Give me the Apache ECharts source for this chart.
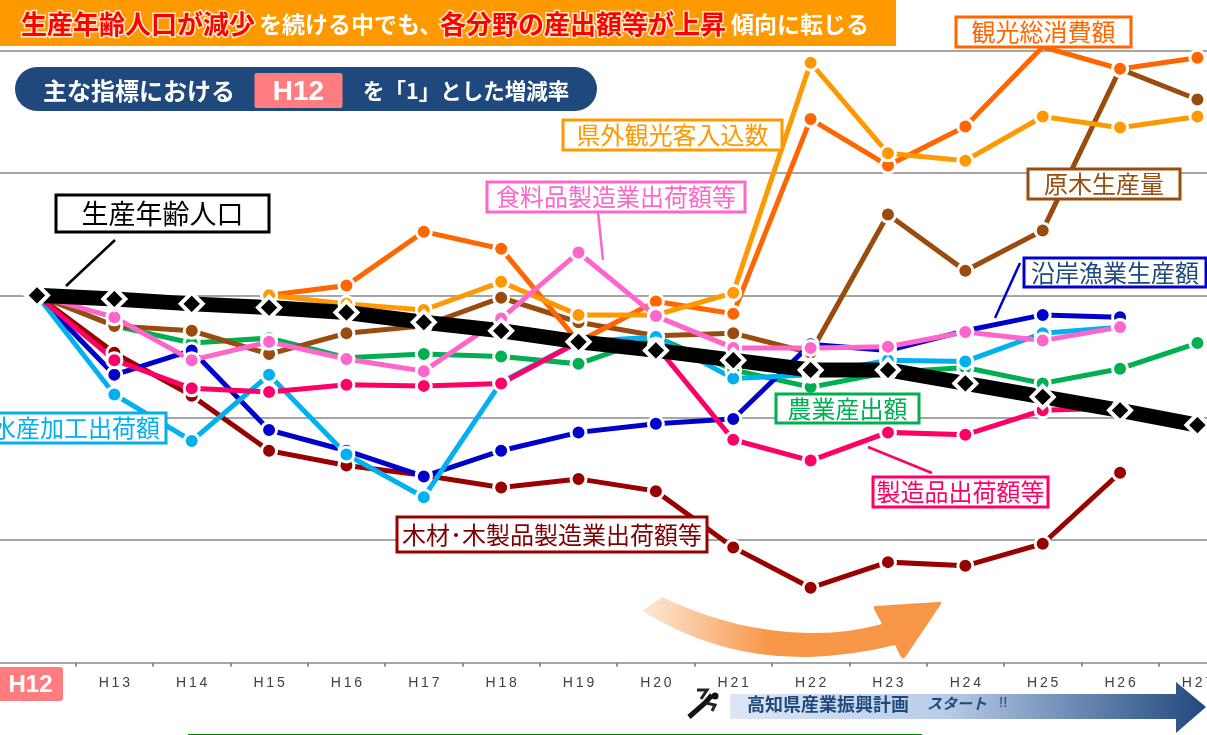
<!DOCTYPE html>
<html lang="ja">
<head>
<meta charset="utf-8">
<title>主な指標における増減率</title>
<style>html,body{margin:0;padding:0;background:#fff}#c{width:1207px;height:735px}</style>
<script src="https://cdn.jsdelivr.net/npm/echarts@6/dist/echarts.min.js"></script>
</head>
<body>
<div id="c"></div>
<script>
const categories = ['H12','H13','H14','H15','H16','H17','H18','H19','H20','H21','H22','H23','H24','H25','H26','H27'];
const population   = [1,.997,.993,.990,.986,.978,.971,.962,.955,.947,.939,.939,.928,.917,.906,.894];
const tourismSpend = [null,null,null,1,1.008,1.052,1.038,.962,.995,.985,1.144,1.106,1.138,1.203,1.185,1.194];
const visitors     = [null,null,null,1,.993,.988,1.011,.984,.984,1.002,1.190,1.116,1.110,1.146,1.137,1.146];
const timber       = [1,.975,.971,.952,.969,.975,.998,.978,.967,.969,.953,1.066,1.020,1.053,1.185,1.160];
const agriculture  = [1,.975,.961,.965,.949,.952,.950,.944,.966,.939,.925,.937,.941,.928,.940,.961];
const fishery      = [1,.935,.955,.890,.873,.852,.873,.888,.895,.899,.960,.955,.971,.984,.982,null];
const seafood      = [1,.919,.881,.935,.870,.835,.929,.962,.966,.932,.935,.947,.946,.969,.974,null];
const manufacture  = [1,.947,.924,.921,.927,.926,.928,.962,.959,.882,.865,.888,.886,.906,.908,null];
const woodProducts = [1,.953,.918,.873,.861,.853,.843,.850,.840,.794,.761,.782,.779,.797,.855,null];
const foodProducts = [1,.982,.947,.962,.948,.938,.981,1.035,.983,.957,.957,.958,.970,.963,.974,null];

const colors = {
  spend:'#FF6600', visitors:'#FF9900', timber:'#994C0D', agri:'#00B050', fish:'#0000CC',
  seafood:'#00B0F0', manu:'#FF0066', wood:'#990000', food:'#FF66CC', navy:'#1F497D', pink:'#FF7C80'
};
const jp = '"Noto Sans CJK JP","Noto Sans",sans-serif';

echarts.graphic.registerShape('curvedArrow', echarts.graphic.extendPath(
  'M642,611 Q720,659 809,657 Q855,655 895,645 L901,657 Q904,660 906,656 L941,604 Q942,601 938,602 L875,606 Q873,607 874,609 L882,624 Q845,634 809,633 Q735,632 662,597 Z', {}));

function lineSeries(name, data, color){
  return {
    name, type:'line', data, connectNulls:false, smooth:false,
    symbol:'circle', symbolSize:15, showSymbol:true, showAllSymbols:true,
    lineStyle:{color, width:5, cap:'butt', join:'miter'},
    itemStyle:{color, borderColor:'#fff', borderWidth:3, opacity:1},
    animation:false, silent:true
  };
}

const series = [
  lineSeries('木材・木製品製造業出荷額等', woodProducts, colors.wood),
  lineSeries('農業産出額', agriculture, colors.agri),
  lineSeries('原木生産量', timber, colors.timber),
  lineSeries('沿岸漁業生産額', fishery, colors.fish),
  lineSeries('水産加工出荷額', seafood, colors.seafood),
  lineSeries('観光総消費額', tourismSpend, colors.spend),
  lineSeries('県外観光客入込数', visitors, colors.visitors),
  lineSeries('製造品出荷額等', manufacture, colors.manu),
  lineSeries('食料品製造業出荷額等', foodProducts, colors.food),
  {
    name:'生産年齢人口', type:'line', data:population, symbol:'diamond', symbolSize:22,
    lineStyle:{color:'#000', width:15, cap:'butt'},
    itemStyle:{color:'#000', borderColor:'#fff', borderWidth:4, opacity:1},
    animation:false, silent:true
  }
];

function box(text,x1,y1,x2,y2,color,textColor,size){
  return [
    {type:'rect',z:50,shape:{x:x1,y:y1,width:x2-x1,height:y2-y1},
      style:{fill:'#fff',stroke:color,lineWidth:3}},
    {type:'text',z:51,style:{text,x:(x1+x2)/2,y:(y1+y2)/2,align:'center',verticalAlign:'middle',
      fill:textColor||color,font:`${size||24}px ${jp}`}}
  ];
}
function leader(x1,y1,x2,y2,color){
  return {type:'line',z:49,shape:{x1,y1,x2,y2},style:{stroke:color,lineWidth:2.5}};
}
function label(text,x,y,fill,font,extra){
  return {type:'text',z:60,style:Object.assign({text,x,y,fill,font,verticalAlign:'middle'},extra||{})};
}

const graphics = [
  /* title bar */
  {type:'rect',z:40,shape:{x:0,y:0,width:896,height:46},style:{fill:'#FF9900'}},
  label('生産年齢人口が減少',21,24,'#FF0000',`bold 26px ${jp}`,{stroke:'#FFE9C8',lineWidth:3}),
  label('を続ける中でも、',259,24,'#fff',`bold 23px ${jp}`),
  label('各分野の産出額等が上昇',440,24,'#FF0000',`bold 26px ${jp}`,{stroke:'#FFE9C8',lineWidth:3}),
  label('傾向に転じる',731,24,'#fff',`bold 23px ${jp}`),
  /* subtitle pill */
  {type:'rect',z:40,shape:{x:15,y:67,width:582,height:44,r:22},style:{fill:colors.navy}},
  label('主な指標における',43,91,'#fff',`bold 24px ${jp}`),
  {type:'rect',z:41,shape:{x:254.5,y:73,width:88,height:35,r:2},style:{fill:colors.pink}},
  label('H12',298.5,92,'#fff','bold 28px "Liberation Sans",sans-serif',{align:'center'}),
  label('を「1」とした増減率',363,91,'#fff',`bold 21.5px ${jp}`),
  /* callouts */
  ...box('観光総消費額',956,17,1131,47,colors.spend),
  ...box('県外観光客入込数',563,120,782,150,colors.visitors),
  ...box('原木生産量',1028,169,1180,199,colors.timber),
  ...box('食料品製造業出荷額等',487,182,745,212,colors.food),
  leader(598,212,603,260,colors.food),
  ...box('生産年齢人口',56,195,269,232,'#000','#000',27),
  leader(115,240,66,286,'#000'),
  ...box('沿岸漁業生産額',1024,258,1206,287,colors.fish,colors.navy),
  leader(1020,263,995,318,colors.fish),
  ...box('水産加工出荷額',-14,413,166,443,colors.seafood),
  ...box('農業産出額',776,394,919,423,colors.agri),
  ...box('製造品出荷額等',873,477,1048,507,colors.manu),
  leader(868,447,932,473,colors.manu),
  ...box('木材･木製品製造業出荷額等',397,517,707,552,colors.wood,'#7F0000',24),
  /* H12 axis tag */
  {type:'rect',z:40,shape:{x:-6,y:667,width:69,height:34,r:3},style:{fill:colors.pink}},
  label('H12',30.5,685,'#fff','bold 24px "Liberation Sans",sans-serif',{align:'center'}),
  /* curved orange arrow */
  {type:'curvedArrow',z:30,
    style:{fill:new echarts.graphic.LinearGradient(0,0,1,0,[
      {offset:0,color:'#FDE9D9'},{offset:.43,color:'#F79646'},{offset:1,color:'#F79646'}])}},
  /* plan arrow */
  {type:'polygon',z:30,shape:{points:[[730,694],[1176,694],[1176,682],[1206,707],[1176,733],[1176,719],[730,719]]},
    style:{fill:new echarts.graphic.LinearGradient(0,0,1,0,[
      {offset:0,color:'#DCE6F5'},{offset:.45,color:'#B9CCE8'},{offset:1,color:'#1F497D'}])}},
  label('高知県産業振興計画',747,704,colors.navy,`bold 18px ${jp}`),
  label('スタート',927,703,colors.navy,`italic bold 15px ${jp}`),
  label('!!',999,703,colors.navy,'15px "Liberation Sans",sans-serif'),
  /* runner */
  {type:'circle',z:30,shape:{cx:715,cy:696,r:3.5},style:{fill:'#111'}},
  {type:'polyline',z:30,shape:{points:[[697,690],[707,690],[701,699]]},style:{stroke:'#222',fill:'none',lineWidth:3}},
  {type:'polyline',z:30,shape:{points:[[712,695],[705,703],[689,717]]},style:{stroke:'#111',fill:'none',lineWidth:5}},
  {type:'polyline',z:30,shape:{points:[[706,703],[715,705],[712,711]]},style:{stroke:'#222',fill:'none',lineWidth:3}},
  /* bottom rule */
  {type:'line',z:30,shape:{x1:188,y1:734.5,x2:922,y2:734.5},style:{stroke:'#008000',lineWidth:1}}
];

const chart = echarts.init(document.getElementById('c'), null, {renderer:'canvas'});
chart.setOption({
  animation:false,
  backgroundColor:'#fff',
  grid:{left:-1.7, top:50.5, width:1237.8, height:612, containLabel:false, outerBoundsMode:'none'},
  xAxis:{
    type:'category', data:categories, boundaryGap:true,
    axisLine:{lineStyle:{color:'#A6A6A6',width:2}},
    axisTick:{show:true,length:4,lineStyle:{color:'#8C8C8C',width:2}},
    axisLabel:{
      interval:0, margin:14, color:'#404040',
      fontFamily:'"Liberation Sans Narrow","Liberation Sans",sans-serif', fontSize:14,
      formatter:v=> v==='H12' ? '' : v.split('').join('\u2009')
    }
  },
  yAxis:{
    type:'value', min:0.7, max:1.2, interval:0.1,
    axisLine:{show:false}, axisTick:{show:false}, axisLabel:{show:false},
    splitLine:{lineStyle:{color:'#A6A6A6',width:2}}
  },
  series,
  graphic:{elements:graphics}
});
</script>
</body>
</html>
